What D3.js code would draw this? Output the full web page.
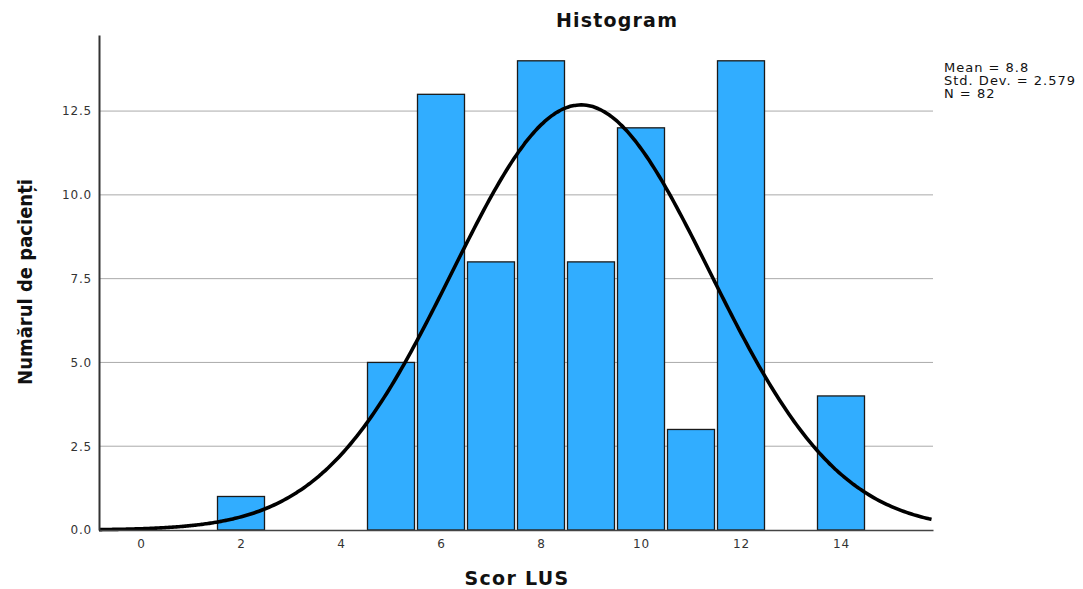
<!DOCTYPE html>
<html><head><meta charset="utf-8">
<script src="https://cdn.jsdelivr.net/npm/d3@7"></script>
<style>body{margin:0;background:#fff;} svg{display:block;}</style>
</head><body>
<svg id="c" width="1083" height="589"></svg>
<script>
const scores = [2, 5, 6, 7, 8, 9, 10, 11, 12, 14];
const counts = [1, 5, 13, 8, 14, 8, 12, 3, 14, 4];
const xTicks = [0, 2, 4, 6, 8, 10, 12, 14];
const yTicks = [0, 2.5, 5, 7.5, 10, 12.5];
const stats = {mean: 8.8, sd: 2.579, n: 82};
const statLabels = ["Mean = 8.8", "Std. Dev. = 2.579", "N = 82"];

const svg = d3.select("#c");
const L = 99, R = 933, T = 35, B = 530;
const x = d3.scaleLinear().domain([-0.84, 15.84]).range([L, R]);
const y = d3.scaleLinear().domain([0, 14.77]).range([B, T]);
const font = "'DejaVu Sans', sans-serif";

// grid
svg.append("g").selectAll("line").data(yTicks.filter(d => d > 0)).join("line")
  .attr("x1", L).attr("x2", R).attr("y1", d => y(d)).attr("y2", d => y(d))
  .attr("stroke", "#aaaaaa").attr("stroke-width", 1);

// bars
svg.append("g").selectAll("rect").data(scores).join("rect")
  .attr("x", (d) => x(d - 0.5) + 1.5)
  .attr("width", d => x(d + 0.5) - x(d - 0.5) - 3)
  .attr("y", (d, i) => y(counts[i]))
  .attr("height", (d, i) => B - y(counts[i]))
  .attr("fill", "#31adff").attr("stroke", "#1a1a1a").attr("stroke-width", 1.3);

// normal curve
const pdf = v => stats.n * Math.exp(-0.5 * ((v - stats.mean) / stats.sd) ** 2) / (stats.sd * Math.sqrt(2 * Math.PI));
const xs = d3.range(-0.84, 15.84 + 0.001, 0.05);
svg.append("path").datum(xs)
  .attr("d", d3.line().x(v => x(v)).y(v => y(pdf(v))).curve(d3.curveBasis))
  .attr("fill", "none").attr("stroke", "#000").attr("stroke-width", 3.6);

// axes
const xa = svg.append("g").attr("transform", `translate(0,${B})`)
  .call(d3.axisBottom(x).tickValues(xTicks).tickSize(0).tickPadding(9).tickFormat(d3.format("d")));
xa.select(".domain").attr("stroke", "#444").attr("stroke-width", 1.5);
xa.selectAll("text").attr("font-family", font).attr("font-size", 12).attr("letter-spacing", 0.8).attr("fill", "#333");

const ya = svg.append("g").attr("transform", `translate(${L},0)`)
  .call(d3.axisLeft(y).tickValues(yTicks).tickSize(0).tickPadding(7).tickFormat(d3.format(".1f")));
ya.select(".domain").attr("stroke", "#333").attr("stroke-width", 2);
ya.selectAll("text").attr("font-family", font).attr("font-size", 12).attr("letter-spacing", 0.8).attr("fill", "#333");

// titles
svg.append("text").attr("x", 617).attr("y", 27).attr("text-anchor", "middle")
  .attr("font-family", font).attr("font-weight", "bold").attr("font-size", 19).attr("letter-spacing", 1.2).attr("fill", "#111").text("Histogram");
svg.append("text").attr("x", 517).attr("y", 585).attr("text-anchor", "middle")
  .attr("font-family", font).attr("font-weight", "bold").attr("font-size", 19).attr("letter-spacing", 1.3).attr("fill", "#111").text("Scor LUS");
svg.append("text").attr("transform", "translate(32,282) rotate(-90)").attr("text-anchor", "middle")
  .attr("font-family", "'DejaVu Sans Condensed','DejaVu Sans', sans-serif").attr("font-weight", "bold").attr("font-size", 20).attr("fill", "#111").text("Numărul de pacienți");

// stats
svg.append("g").selectAll("text").data(statLabels).join("text")
  .attr("x", 944).attr("y", (d, i) => 72 + i * 13)
  .attr("font-family", font).attr("font-size", 13).attr("letter-spacing", 1).attr("fill", "#111").text(d => d);
</script>
</body></html>
